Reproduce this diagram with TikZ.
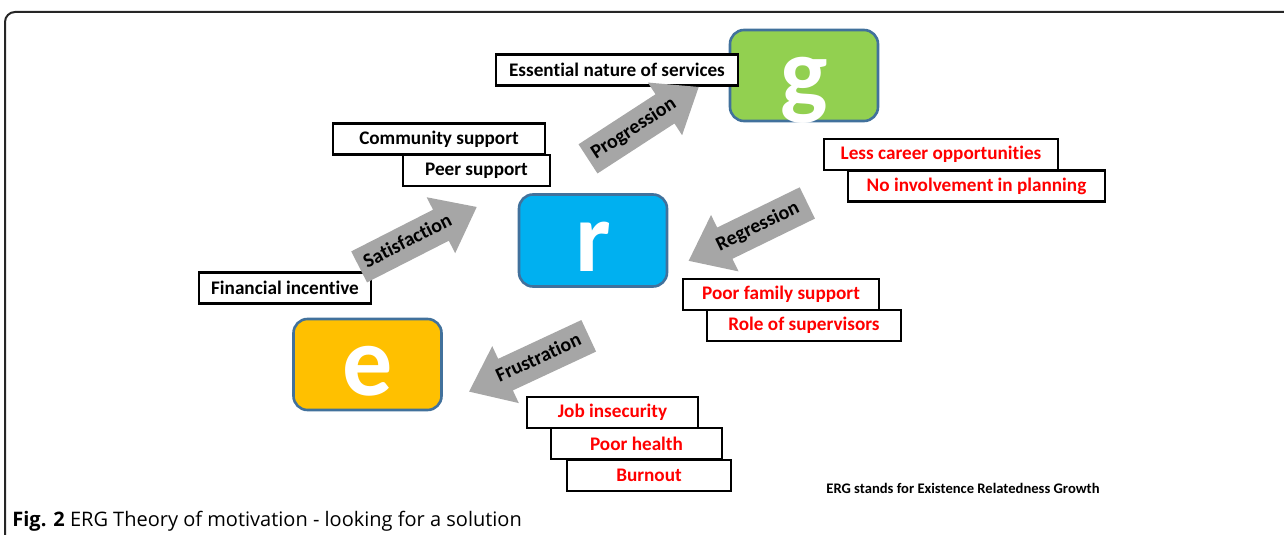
\documentclass[tikz,border=0pt]{standalone}
\usepackage{fontspec}
\setmainfont{Carlito}[Ligatures=NoCommon]
\newfontfamily\capfont{Open Sans}
\usetikzlibrary{shapes.arrows}

\definecolor{growth}{HTML}{92D050}
\definecolor{related}{HTML}{00B0F0}
\definecolor{exist}{HTML}{FFC000}
\definecolor{edge}{HTML}{41719C}
\definecolor{shaft}{HTML}{A6A6A6}

\begin{document}
\begin{tikzpicture}[x=.5pt,y=-.5pt,
  tag/.style={draw,line width=1.3pt,fill=white,minimum height=15.5pt,inner sep=0pt,
    font=\bfseries\fontsize{9.6}{11}\selectfont},
  bad/.style={tag,text=red},
  level/.style={draw=edge,line width=1.3pt,rounded corners=7pt,minimum width=74pt,
    minimum height=46pt,inner sep=0pt,text=white,text height=31pt,text depth=0pt,
    font=\bfseries\fontsize{50}{50}\selectfont},
  flow/.style={single arrow,fill=shaft,minimum height=66pt,single arrow head extend=7pt,
    single arrow tip angle=76,inner xsep=0pt,inner ysep=4pt,text height=7pt,text depth=2pt,
    font=\bfseries\fontsize{10}{12}\selectfont}]
\useasboundingbox (0,0) rectangle (1284,535);
\draw[line width=1pt,black!85,rounded corners=5pt] (1284,12) -| (5,535);

% the three levels
\node[level,fill=growth,minimum height=45.5pt] (g) at (804,75.5) {g};
\node[level,fill=related] (r) at (593,240.5) {r};
\node[level,fill=exist,minimum height=45.5pt] (e) at (367.5,364.5) {e};

% what moves people up
\node[tag,minimum width=121pt] (services) at (617,70) {Essential nature of services};
\node[tag,minimum width=106pt] (community) at (439,139) {Community support};
\node[tag,minimum width=73.5pt] (peer) at (476.5,170.5) {Peer support};
\node[tag,minimum width=86pt] (financial) at (285,288) {Financial incentive};

% what pushes them down
\node[bad,minimum width=117pt] (career) at (941,154.5) {Less career opportunities};
\node[bad,minimum width=128.5pt] (planning) at (976.5,186) {No involvement in planning};
\node[bad,minimum width=98pt] (family) at (781,294.5) {Poor family support};
\node[bad,minimum width=97pt] (supervisors) at (804,325.5) {Role of supervisors};
\node[bad,minimum width=85.5pt] (job) at (612.5,412.5) {Job insecurity};
\node[bad,minimum width=85.5pt] (health) at (636.5,443.5) {Poor health};
\node[bad,minimum width=82pt] (burnout) at (649,475.5) {Burnout};

% block arrows
\node[flow,rotate=33] (progression) at (634,129) {Progression};
\node[flow,rotate=27] (satisfaction) at (408,242) {Satisfaction};
\node[flow,rotate=26,shape border rotate=180] (regression) at (758,227) {Regression};
\node[flow,rotate=25,shape border rotate=180] (frustration) at (539,359) {Frustration};

\node[font=\bfseries\fontsize{7.3}{9}\selectfont] (note) at (963,488)
  {ERG stands for Existence Relatedness Growth};
\node[anchor=west,inner sep=0pt,font=\capfont\fontsize{10}{12}\selectfont] (caption) at (12,521)
  {\textbf{Fig. 2} ERG Theory of motivation - looking for a solution};
\end{tikzpicture}
\end{document}
